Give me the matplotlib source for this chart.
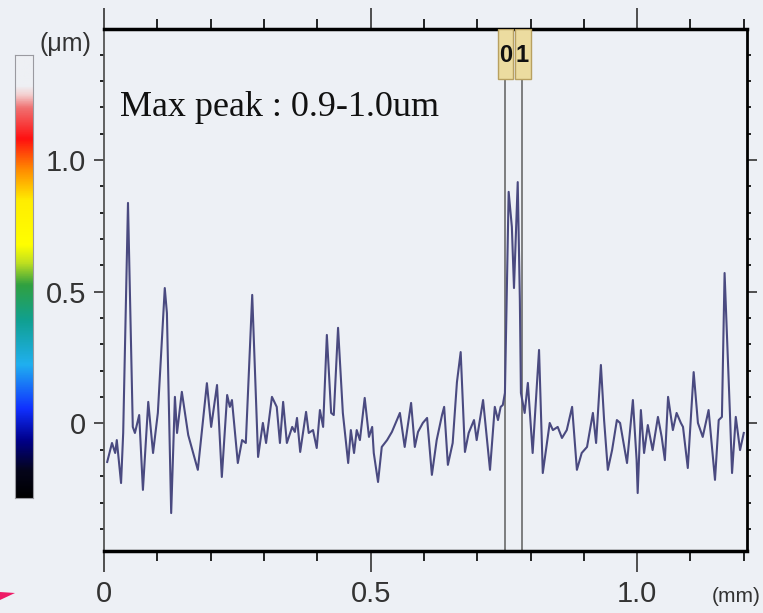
import numpy as np
import matplotlib
matplotlib.use('Agg')
import matplotlib.pyplot as plt
from matplotlib.colors import LinearSegmentedColormap
from matplotlib.patches import Rectangle, Polygon
from matplotlib.ticker import MultipleLocator, FixedLocator
import matplotlib.transforms as mtransforms

# surface profile: position along scan (mm) and height (um)
pos_mm = [0.006, 0.015, 0.021, 0.024, 0.032, 0.036, 0.045, 0.054, 0.058, 0.066,
          0.073, 0.083, 0.092, 0.101, 0.114, 0.118, 0.126, 0.133, 0.137, 0.146,
          0.158, 0.176, 0.193, 0.201, 0.212, 0.221, 0.231, 0.236, 0.240, 0.251,
          0.259, 0.266, 0.278, 0.289, 0.298, 0.304, 0.315, 0.324, 0.330, 0.336,
          0.343, 0.353, 0.358, 0.362, 0.368, 0.379, 0.384, 0.392, 0.399, 0.405,
          0.411, 0.418, 0.426, 0.431, 0.439, 0.448, 0.458, 0.463, 0.469, 0.474,
          0.480, 0.489, 0.497, 0.503, 0.506, 0.514, 0.521, 0.531, 0.540, 0.548,
          0.555, 0.564, 0.576, 0.583, 0.589, 0.598, 0.606, 0.615, 0.624, 0.634,
          0.638, 0.645, 0.654, 0.662, 0.669, 0.677, 0.684, 0.694, 0.699, 0.711,
          0.724, 0.733, 0.739, 0.744, 0.748, 0.752, 0.759, 0.765, 0.769, 0.776,
          0.780, 0.782, 0.789, 0.795, 0.804, 0.816, 0.823, 0.836, 0.842, 0.851,
          0.859, 0.868, 0.878, 0.887, 0.896, 0.906, 0.917, 0.923, 0.932, 0.938,
          0.945, 0.953, 0.962, 0.968, 0.981, 0.992, 0.999, 1.001, 1.007, 1.013,
          1.020, 1.029, 1.039, 1.046, 1.052, 1.058, 1.067, 1.074, 1.082, 1.086,
          1.095, 1.106, 1.114, 1.123, 1.134, 1.146, 1.153, 1.159, 1.164, 1.174,
          1.178, 1.185, 1.193, 1.200]
height_um = [-0.146, -0.074, -0.112, -0.063, -0.226, -0.036, 0.837, -0.013, -0.036, 0.032,
             -0.252, 0.082, -0.112, 0.040, 0.514, 0.419, -0.340, 0.101, -0.036, 0.120,
             -0.044, -0.176, 0.153, -0.013, 0.146, -0.203, 0.108, 0.063, 0.089, -0.150,
             -0.063, -0.074, 0.488, -0.127, 0.002, -0.074, 0.101, 0.063, -0.074, 0.082,
             -0.074, -0.013, -0.032, 0.021, -0.108, 0.044, -0.036, -0.025, -0.093, 0.051,
             -0.013, 0.336, 0.040, 0.032, 0.363, 0.040, -0.150, -0.025, -0.112, -0.025,
             -0.063, 0.097, -0.051, -0.013, -0.112, -0.222, -0.089, -0.063, -0.032, 0.006,
             0.040, -0.089, 0.078, -0.089, -0.032, 0.002, 0.021, -0.195, -0.063, 0.032,
             0.063, -0.157, -0.074, 0.157, 0.271, -0.108, -0.036, 0.013, -0.063, 0.089,
             -0.176, 0.063, 0.013, 0.063, 0.070, 0.116, 0.879, 0.746, 0.514, 0.916,
             0.469, 0.116, 0.040, 0.154, -0.112, 0.279, -0.188, 0.002, -0.025, -0.013,
             -0.055, -0.025, 0.063, -0.176, -0.112, -0.089, 0.040, -0.074, 0.222, 0.013,
             -0.176, -0.101, 0.013, 0.002, -0.150, 0.089, -0.139, -0.264, 0.051, -0.112,
             -0.006, -0.101, 0.025, -0.051, -0.139, 0.101, -0.025, 0.040, 0.002, -0.013,
             -0.169, 0.195, 0.002, -0.051, 0.051, -0.214, 0.013, 0.025, 0.571, 0.040,
             -0.188, 0.025, -0.101, -0.036]

cursor_pos = [0.752, 0.784]
cursor_names = ['0', '1']

x_ticks = [0, 0.5, 1.0]
x_labels = ['0', '0.5', '1.0']
y_ticks = [0, 0.5, 1.0]
y_labels = ['0', '0.5', '1.0']

note = 'Max peak : 0.9-1.0um'

bg = '#edf0f5'
sans = ['Liberation Sans', 'DejaVu Sans']

fig = plt.figure(figsize=(7.63, 6.13), dpi=100, facecolor=bg)

# height colour scale on the left
cax = fig.add_axes([0.0197, 0.1876, 0.0236, 0.7227])
scale_cmap = LinearSegmentedColormap.from_list('height', [
    (0.00, '#000000'), (0.06, '#05051a'), (0.13, '#00008c'), (0.20, '#1030ff'),
    (0.30, '#20b0f0'), (0.40, '#10a090'), (0.48, '#30a040'), (0.53, '#c0e020'),
    (0.57, '#ffff00'), (0.67, '#ffee00'), (0.74, '#ff8c00'), (0.81, '#ff1010'),
    (0.88, '#f07070'), (0.91, '#f4d0d0'), (0.93, '#eef0f4'), (1.00, '#eef0f4')])
grad = np.linspace(0, 1, 256)[:, None]
cax.imshow(grad, aspect='auto', origin='lower', cmap=scale_cmap)
cax.set_xticks([])
cax.set_yticks([])
for s in cax.spines.values():
    s.set_color('#9a9aa0')
    s.set_linewidth(0.8)

ax = fig.add_axes([0.1363, 0.1011, 0.8427, 0.8516])
ax.set_facecolor(bg)
ax.plot(pos_mm, height_um, color='#4a4a80', lw=1.5, zorder=3,
        solid_joinstyle='round')

ax.set_xlim(0, 1.206)
ax.set_ylim(-0.484, 1.497)

# cursor lines with their tags
tag = mtransforms.blended_transform_factory(ax.transData, ax.transAxes)
for p, name in zip(cursor_pos, cursor_names):
    ax.axvline(p, color='#6a6a6a', lw=1.2, zorder=2)
    ax.add_patch(Rectangle((p - 0.013, 0.904), 0.029, 0.096, transform=tag,
                           facecolor='#ecdca0', edgecolor='#b8a060', lw=1.0, zorder=4))
    ax.text(p + 0.001, 0.95, name, transform=tag, ha='center', va='center',
            fontsize=17, fontweight='bold', family=sans, color='#111111', zorder=5)

ax.text(0.025, 0.85, note, transform=ax.transAxes, family='Liberation Serif',
        fontsize=26, color='#111111', va='center', ha='left')

# ticks
ax.xaxis.set_major_locator(FixedLocator(x_ticks))
ax.xaxis.set_minor_locator(MultipleLocator(0.1))
ax.set_xticklabels(x_labels)
ax.yaxis.set_major_locator(FixedLocator(y_ticks))
ax.yaxis.set_minor_locator(FixedLocator(np.arange(-0.4, 1.51, 0.1)))
ax.set_yticklabels(y_labels)

ax.tick_params(axis='x', which='major', direction='out', length=15, width=1.2,
               top=True, labeltop=False, pad=6, labelsize=21, colors='#333333')
ax.tick_params(axis='x', which='minor', direction='out', length=7, width=1.2, top=True)
ax.tick_params(axis='y', which='major', direction='out', length=7, width=1.2,
               right=True, pad=6, labelsize=21, colors='#333333')
ax.tick_params(axis='y', which='minor', direction='out', length=3, width=1.2, right=True)
for lab in ax.get_xticklabels() + ax.get_yticklabels():
    lab.set_family(sans)

ax.spines['top'].set_linewidth(2.5)
ax.spines['bottom'].set_linewidth(2.5)
ax.spines['left'].set_linewidth(1.3)
ax.spines['left'].set_color('#555555')
ax.spines['right'].set_linewidth(2.0)

fig.text(65 / 763, 1 - 44 / 613, '(\u03bcm)', family=sans, fontsize=18,
         ha='center', va='center', color='#333333')
fig.text(761 / 763, 1 - 597 / 613, '(mm)', family=sans, fontsize=15,
         ha='right', va='center', color='#333333')

# small pointer at the lower left
fig.patches.append(Polygon([[0, 1 - 592 / 613], [15 / 763, 1 - 593 / 613], [0, 1 - 600 / 613]],
                           closed=True, transform=fig.transFigure,
                           facecolor='#ee1a66', edgecolor='none'))

fig.savefig('out.png', dpi=100, facecolor=bg)
